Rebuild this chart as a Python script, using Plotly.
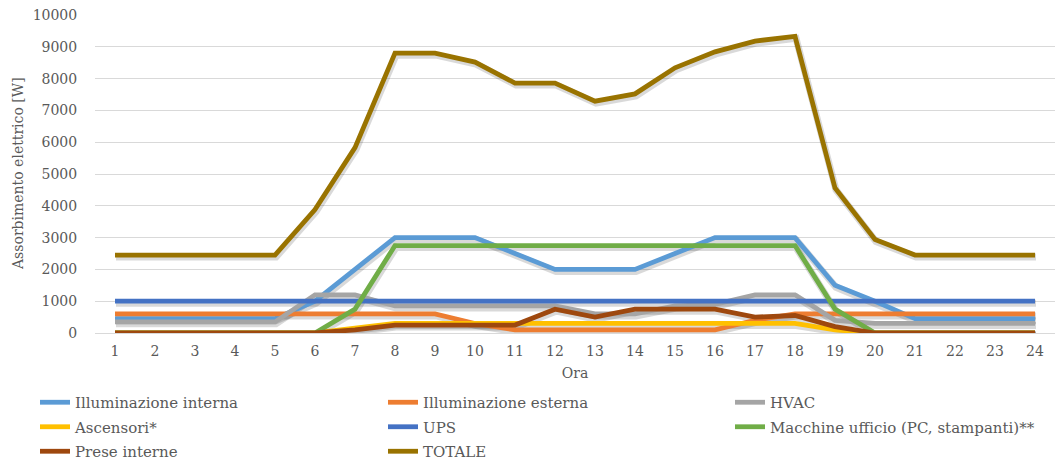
import plotly.graph_objects as go

# Hourly electric absorption by load type [W]
ore = list(range(1, 25))

illuminazione_interna = [450, 450, 450, 450, 450, 1000, 2000, 3000, 3000, 3000, 2500, 2000,
                         2000, 2000, 2500, 3000, 3000, 3000, 1500, 1000, 450, 450, 450, 450]
illuminazione_esterna = [600, 600, 600, 600, 600, 600, 600, 600, 600, 300, 100, 100,
                         100, 100, 100, 100, 400, 600, 600, 600, 600, 600, 600, 600]
hvac = [350, 350, 350, 350, 350, 1200, 1200, 850, 850, 850, 850, 850,
        600, 600, 850, 900, 1200, 1200, 400, 300, 300, 300, 300, 300]
ascensori = [0, 0, 0, 0, 0, 0, 150, 300, 300, 300, 300, 300,
             300, 300, 300, 300, 300, 300, 100, 0, 0, 0, 0, 0]
ups = [1000] * 24
macchine_ufficio = [0, 0, 0, 0, 0, 0, 750, 2750, 2750, 2750, 2750, 2750,
                    2750, 2750, 2750, 2750, 2750, 2750, 750, 0, 0, 0, 0, 0]
prese_interne = [0, 0, 0, 0, 0, 0, 100, 250, 250, 250, 250, 750,
                 500, 750, 750, 750, 500, 550, 200, 0, 0, 0, 0, 0]
totale = [2450, 2450, 2450, 2450, 2450, 3880, 5830, 8800, 8800, 8520, 7860, 7860,
          7290, 7520, 8340, 8840, 9180, 9330, 4560, 2940, 2450, 2450, 2450, 2450]

# name, values, colour, legend column
series = [
    ("Illuminazione interna", illuminazione_interna, "#5B9BD5", "legend"),
    ("Illuminazione esterna", illuminazione_esterna, "#ED7D31", "legend2"),
    ("HVAC", hvac, "#A5A5A5", "legend3"),
    ("Ascensori*", ascensori, "#FFC000", "legend"),
    ("UPS", ups, "#4472C4", "legend2"),
    ("Macchine ufficio (PC, stampanti)**", macchine_ufficio, "#70AD47", "legend3"),
    ("Prese interne", prese_interne, "#9E480E", "legend"),
    ("TOTALE", totale, "#997300", "legend2"),
]

FONT = "DejaVu Serif"
TXT = "#595959"

fig = go.Figure()

# soft drop shadows, drawn on a slightly shifted hidden axis pair underneath
for name, vals, col, leg in series:
    fig.add_trace(go.Scatter(
        x=ore, y=vals, mode="lines", xaxis="x", yaxis="y",
        line=dict(color="rgba(0,0,0,0.15)", width=7),
        showlegend=False, hoverinfo="skip",
    ))

for name, vals, col, leg in series:
    fig.add_trace(go.Scatter(
        x=ore, y=vals, mode="lines", name=name, xaxis="x2", yaxis="y2",
        legend=leg, legendgroup=name,
        line=dict(color=col, width=4.8),
    ))

ML, MR, MT, MB = 95, 0, 15, 134
plot_w = 1055 - ML - MR
plot_h = 467 - MT - MB
dy = 2.0 / plot_h * 10000
dx = 1.0 / (plot_w / 24)

legend_style = dict(
    orientation="v", xref="container", yref="container",
    y=1 - 386 / 467, xanchor="left", yanchor="top",
    font=dict(family=FONT, size=15, color=TXT),
    bgcolor="rgba(0,0,0,0)", traceorder="grouped", tracegroupgap=2,
)

fig.update_layout(
    width=1055, height=467,
    margin=dict(l=ML, r=MR, t=MT, b=MB, autoexpand=False),
    paper_bgcolor="white", plot_bgcolor="white",
    font=dict(family=FONT, size=14, color=TXT),
    xaxis=dict(range=[0.5 - dx, 24.5 - dx], visible=False),
    yaxis=dict(range=[0 + dy, 10000 + dy], visible=False),
    xaxis2=dict(
        overlaying="x", range=[0.5, 24.5], tickmode="array", tickvals=ore,
        ticktext=[str(h) for h in ore], showgrid=False, showline=True,
        linecolor="#d9d9d9", linewidth=1, zeroline=False,
        ticks="outside", ticklen=5, tickcolor="rgba(0,0,0,0)",
        tickfont=dict(family=FONT, size=14, color=TXT),
        title=dict(text="Ora", font=dict(family=FONT, size=14, color=TXT), standoff=10),
    ),
    yaxis2=dict(
        overlaying="y", side="left", range=[0, 10000], dtick=1000, tickformat="d",
        showgrid=True, gridcolor="#d9d9d9", gridwidth=1, zeroline=False,
        showline=False, ticks="outside", ticklen=14, tickcolor="rgba(0,0,0,0)",
        tickfont=dict(family=FONT, size=14, color=TXT),
    ),
    annotations=[dict(
        text="Assorbimento elettrico [W]", textangle=-90,
        xref="paper", x=-77 / plot_w, xanchor="center",
        yref="paper", y=0.5, yanchor="middle",
        showarrow=False, font=dict(family=FONT, size=14, color=TXT),
    )],
    legend=dict(legend_style, x=35 / 1055),
    legend2=dict(legend_style, x=383 / 1055),
    legend3=dict(legend_style, x=730 / 1055),
    showlegend=True,
)

fig.write_html("out.html")
